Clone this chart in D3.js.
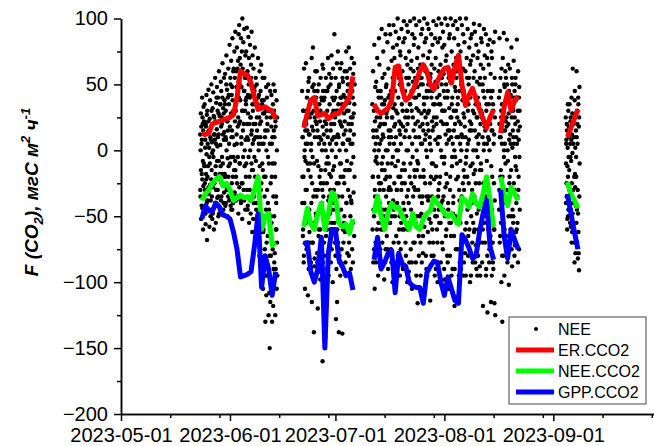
<!DOCTYPE html>
<html>
<head>
<meta charset="utf-8">
<script src="https://cdn.jsdelivr.net/npm/d3@7"></script>
<style>
  body { margin: 0; background: #fff; }
  svg { display: block; font-family: "Liberation Sans", Arial, sans-serif; }
</style>
</head>
<body>
<script>
// first day of every measuring period
var segStart = ["2023-05-24", "2023-06-22", "2023-07-12", "2023-08-17", "2023-09-05"];

// daily fluxes, one array per period
var erCCO2 = [
  [13, 12, 13, 20, 21, 22, 23, 24, 25, 27, 40, 60, 58, 57, 51, 40, 31, 32, 33, 31, 30, 24],
  [17, 28, 38, 40, 26, 27, 28, 24, 26, 28, 28, 32, 36, 40, 56],
  [35, 30, 28, 30, 32, 38, 63, 64, 46, 38, 40, 45, 52, 60, 65, 60, 50, 46, 52, 58,
   62, 63, 51, 63, 72, 50, 34, 42, 47, 39, 31, 24, 17, 25, 31],
  [13, 33, 44, 30, 38, 41],
  [10, 17, 24, 31]
];
var neeCCO2 = [
  [-38, -33, -30, -25, -22, -20, -27, -25, -30, -38, -36, -34, -36, -35, -38, -30, -20, -60, -50, -48, -72, -70],
  [-58, -44, -56, -60, -48, -40, -60, -48, -32, -35, -55, -58, -56, -63, -52],
  [-48, -35, -50, -60, -47, -40, -44, -43, -50, -55, -60, -48, -58, -60, -52, -48, -46, -36, -40, -43,
   -48, -50, -48, -53, -56, -36, -38, -43, -33, -40, -43, -33, -20, -38, -58],
  [-20, -33, -42, -28, -33, -38],
  [-24, -33, -38, -44]
];
var gppCCO2 = [
  [-52, -42, -46, -46, -40, -43, -49, -50, -52, -62, -75, -96, -95, -94, -92, -72, -48, -104, -80, -90, -110, -92],
  [-72, -70, -92, -100, -90, -66, -150, -78, -60, -60, -83, -88, -95, -93, -106],
  [-83, -66, -90, -85, -78, -76, -108, -78, -86, -88, -100, -103, -104, -104, -116, -93, -88, -84, -85, -100,
   -110, -96, -105, -114, -116, -64, -68, -74, -82, -80, -62, -48, -38, -73, -83],
  [-30, -65, -82, -60, -68, -75],
  [-33, -48, -62, -75]
];

// half-hourly NEE (thinned), one inner array per day: full spread
var neeSeg1 = [
  [12, -35, 28, -52, 5, -18, 40, -44, 20, -8, -60, 15, -27, 33],
  [-48, 22, -12, 35, -30, 8, -56, 18, -22, 42, -3, -40, 27, -68],
  [30, -20, -45, 14, 46, -33, 2, -58, 24, -10, 38, -26, 10, -50],
  [-38, 18, 50, -15, 6, -52, 32, -28, 44, -5, -44, 26, -60, 12],
  [25, -42, 8, 55, -18, -55, 36, -30, 16, 48, -8, -36, 3, 30],
  [-30, 40, -50, 12, 60, -22, 26, -45, 4, 35, -12, 52, -38, 18],
  [45, -25, 20, -48, 66, -10, 32, -40, 8, 55, -32, 14, 38, -20],
  [-18, 58, -42, 30, 8, 72, -28, 46, -50, 22, -6, 40, 15, -35],
  [62, -12, 35, -38, 80, 18, -30, 50, -5, 28, 68, -45, 10, 42],
  [-25, 48, 85, 10, -40, 30, 62, -15, 75, 4, -32, 55, 22, -8],
  [90, 35, -20, 60, 12, 78, -35, 45, -5, 68, 25, -48, 52, 88],
  [40, 95, -10, 70, 22, 58, -38, 85, 5, 48, -25, 75, 30, -52],
  [100, 62, 15, 82, -30, 45, 92, -12, 55, 30, -45, 72, 8, 38],
  [-20, 75, 40, 93, 10, 60, -42, 28, 86, -5, 50, 70, -55, 20],
  [55, -30, 80, 25, -48, 65, 12, 90, -15, 42, -62, 35, 72, 5],
  [30, -52, 62, 8, -35, 45, 78, -20, 20, -70, 55, -8, 38, -45],
  [-40, 50, 15, -65, 35, 70, -25, 0, 42, -55, 25, -80, 60, -12],
  [20, -75, 45, -30, 65, 5, -90, 35, -50, 55, -15, -105, 28, -62],
  [-60, 38, -20, 55, -85, 10, -130, 30, -45, 48, -110, 0, -70, 25],
  [40, -95, 15, -40, 50, -125, -10, 30, -80, -150, 5, -60, 45, -115],
  [-50, 25, -100, 42, -20, -130, 10, -75, 35, -118, -35, 50, -90, 15],
  [30, -85, -10, 45, -125, 18, -60, -40, 38, -105, 0, -70, 25, -95]
];
var neeSeg2 = [
  [45, -20, 10, -60, 30, -85, 62, -40, 0, 22, -105, -70, 15, -8],
  [-30, 66, 20, -75, 40, -50, 5, -110, 28, -15, 52, -90, -45, 12],
  [55, -62, 25, -10, -88, 38, 0, -40, 70, -115, 18, -25, 48, -70],
  [-5, 78, -55, 30, -138, 45, -82, 10, -30, 60, -95, 22, -48, 35],
  [40, -35, 60, -78, 15, -120, 28, -12, 50, -60, 5, -92, 35, -20],
  [-45, 22, -98, 55, -15, 8, -70, 38, -30, 65, -160, 18, -85, 45],
  [62, -25, 12, -80, 40, -50, 28, -142, 0, 55, -65, 20, -10, -90],
  [15, -60, 45, -5, 70, -38, -95, 25, 58, -18, 35, -75, 5, -48],
  [-30, 50, -85, 20, 72, -55, 8, 40, -100, -15, 62, -40, 30, 10],
  [38, -12, 88, -70, 25, -45, 55, -128, 5, -90, 45, -25, 66, -115],
  [-60, 30, 75, -35, 10, -138, 50, -80, 22, -10, 62, -95, 40, -20],
  [20, -45, 66, -88, 35, -139, 5, 52, -20, -70, 42, 12, -55, 28],
  [-25, 60, -62, 40, 15, -95, 75, -40, 30, -8, 55, -78, 8, 45],
  [50, -30, 20, 78, -70, 36, -15, 62, -50, 5, 44, -90, 25, -38],
  [-10, 70, -55, 45, 25, -85, 58, -32, 12, 66, -65, 35, -20, 50]
];
var neeSeg3 = [
  [35, -20, 60, -85, 10, -50, 80, -105, 22, -35, 48, -8, -70, 5],
  [-40, 52, 15, -78, 70, -10, 30, -95, -55, 40, 0, 85, -25, 18],
  [65, -30, 25, -88, 45, -60, 8, 92, -15, 35, -70, 55, -45, 12],
  [-5, 75, -50, 20, -98, 58, 38, -22, 88, -75, 0, 48, -35, 28],
  [50, -65, 30, 82, -10, -90, 62, 15, -40, 95, -28, 42, 5, -55],
  [-20, 88, 40, -75, 10, 68, -50, 25, -100, 55, -5, 78, -38, 32],
  [95, -45, 18, 70, -85, 45, -12, 90, 30, -65, 58, 0, -30, 80],
  [-30, 62, 100, -8, 40, -70, 85, 22, -50, 50, -95, 75, 12, -20],
  [72, 5, -55, 92, 35, -25, 60, -88, 18, 82, -40, 45, -10, 98],
  [-60, 40, 85, -15, 25, 70, -80, 55, 0, 95, -35, 30, -100, 65],
  [20, 90, -30, 50, -92, 75, 10, -55, 98, 35, -10, 62, -75, 42],
  [-45, 68, 30, -105, 88, -5, 52, -70, 15, 80, -28, 100, 40, -15],
  [85, -20, 55, 10, -85, 95, 32, -50, 70, -8, 48, -116, 22, 62],
  [-10, 78, -65, 42, 98, -35, 18, 65, -95, 50, 5, 88, -48, 28],
  [55, -40, 92, 20, -78, 72, -15, 40, 100, -58, 30, -108, 82, 8],
  [-25, 60, 12, 85, -90, 45, -5, 96, 28, -62, 70, -38, 50, 15],
  [92, 30, -52, 75, 5, -114, 58, -20, 88, 40, -80, 65, -10, 22],
  [-35, 80, 45, -70, 98, 18, -22, 62, -95, 35, 85, -50, 8, 52],
  [70, -12, 95, 25, -60, 48, -100, 82, 10, -30, 60, 100, -45, 35],
  [-55, 42, 85, -20, 65, -85, 22, 96, -5, 55, -70, 30, 78, -38],
  [30, 90, -45, 58, -10, 80, -98, 40, 100, -28, 12, 68, -65, 50],
  [-18, 72, 20, -80, 95, 45, -40, 62, 8, -105, 85, 32, -55, 15],
  [88, -30, 52, 100, -65, 25, 75, -12, 40, -90, 60, 5, -48, 95],
  [-40, 65, 15, 85, -118, 48, -5, 98, -75, 30, 70, -22, 55, 10],
  [60, -55, 92, 35, -20, 80, -110, 22, 68, -38, 45, -85, 100, 5],
  [-8, 75, -45, 50, 12, 95, -70, 38, -25, 62, 88, -95, 28, -15],
  [45, -30, 82, 18, -78, 60, -10, 100, 35, -55, 70, 0, -40, 55],
  [-20, 92, 30, -65, 50, 8, 78, -42, 22, -100, 65, 40, -12, 85],
  [68, -50, 15, 88, -30, 45, -85, 72, 0, 55, -18, 96, -62, 28],
  [-35, 60, 90, -15, 35, -72, 80, 10, -48, 52, -95, 25, 70, -5],
  [40, -60, 75, 12, -25, 95, -88, 55, 20, -40, 65, -10, 85, 30],
  [-15, 82, 28, -70, 50, -118, 62, -35, 92, 5, -55, 40, 18, 72],
  [55, -45, 20, 88, -90, 35, -8, 70, -123, 45, -28, 80, 10, -60],
  [-30, 65, 8, -75, 84, 25, -50, 58, -115, 40, -12, 75, 15, -95],
  [70, -20, 45, -85, 30, 82, -60, 12, -116, 55, -38, 25, 90, -125]
];
var neeSeg4 = [
  [40, -30, 85, 10, -65, 55, -15, 25, -100, 62, -45, 5, 35, -80, -130],
  [-20, 70, 30, -55, 89, 0, -95, 48, 15, -35, 60, -10, 22, -70],
  [55, -40, 18, 84, -75, 38, -8, 65, -50, 28, -102, 45, 8, -25],
  [-35, 62, 12, -60, 42, -15, 78, 25, -88, 50, 2, -45, 32, 15],
  [30, -50, 68, 5, -30, 45, -72, 20, 55, -12, 38, -62, 10, -40],
  [-15, 84, 40, -55, 22, 60, -30, 8, -75, 48, -5, 30, -45, 18]
];
var neeSeg5 = [
  [25, -10, 8, -35, 15, -52, 2, -20, 30, -45, -5, 18, -28, 10],
  [-15, 35, -40, 5, 22, -58, -8, 40, -25, 12, -62, 28, -2, -48],
  [62, -30, 20, -55, 10, -70, 38, -18, 2, -78, 28, -42, 15, -5],
  [-20, 60, -45, 30, 5, -82, 40, -62, 18, -91, 25, -35, 48, -10]
];

// extra NEE points of the dense core, one inner array per day
var neeCore1 = [
  [-30, 0, -15, 18, -42, 8, -22, 25], [-10, -35, 12, -25, 2, -48, 20, -18],
  [-38, 5, -12, 22, -28, 15, -5, -45], [8, -22, 30, -35, -2, 20, -48, 0],
  [-25, 12, -40, 22, -12, 5, -30, 40], [10, -35, 28, -8, -48, 22, -18, 35],
  [-35, 25, -5, 40, -18, 12, -45, 28], [35, -20, 10, -40, 50, 0, -30, 22],
  [-20, 42, 5, -35, 25, -10, 55, -42], [15, -45, 38, -20, 60, -5, 28, -35],
  [-15, 30, -38, 48, 5, -25, 62, 18], [20, -28, 50, -10, 38, 65, -40, 10],
  [-25, 30, -5, 58, 20, -38, 45, 0], [35, -10, 55, -30, 20, -45, 42, 8],
  [-20, 40, 0, -38, 25, 55, -10, 15], [-15, 20, -40, 35, -5, 48, -30, 10],
  [-30, 25, -50, 10, -20, 40, -65, 5], [-40, 10, -62, 22, -25, -85, 38, -10],
  [5, -55, 28, -35, -75, 15, -20, -95], [-30, 20, -65, -5, -90, 30, -45, -108],
  [-25, -80, 18, -55, 5, -100, -10, 28], [-50, 10, -78, -20, 22, -90, -35, -60]
];
var neeCore2 = [
  [-40, 10, -65, 30, -20, -80, 20, -5], [5, -55, 30, -30, -72, 15, -10, 45],
  [-45, 12, -70, 35, -20, -85, 5, 28], [-70, 15, -35, 50, -10, -88, 25, -55],
  [-50, 20, -8, -85, 45, -30, 10, -65], [10, -60, 30, -25, -88, 40, -40, 0],
  [-35, 38, -70, 5, -55, 22, -15, 45], [-25, 30, -80, 10, -55, 48, -10, -35],
  [-60, 15, -20, 55, -75, 0, -45, 28], [-30, 20, -55, 10, 40, -80, -5, 30],
  [-45, 12, -70, 35, -25, 48, -85, 0], [-10, 40, -75, 18, -35, 55, -60, 5],
  [-50, 22, -15, -85, 35, 0, -40, 60], [-15, -60, 30, -80, 8, 50, -35, 15],
  [-40, 20, -75, 5, 40, -55, -5, 28]
];
var neeCore3 = [
  [-60, -20, 15, -45, 30, -75, 0, -30], [-85, -5, 25, -60, 10, -35, 45, -20],
  [-40, 5, -75, 20, -25, 40, -55, -10], [-60, 10, -30, 35, -85, -15, 20, -45],
  [-20, 25, -75, 0, -45, 40, -30, 10], [-55, 15, -30, 45, -85, -10, 25, -40],
  [-70, 5, -25, 35, -50, 20, -90, 10], [-40, 28, -80, 0, -20, 55, -60, 15],
  [-75, 20, -30, 50, -15, -60, 30, -90], [-45, 10, -25, 45, -70, 15, -50, 30],
  [-60, 0, 25, -40, 55, -85, -20, 35], [-25, 45, -85, 5, -55, 25, -35, 60],
  [-70, -30, 20, -55, 40, -95, 0, -15], [-30, 30, -80, 10, -50, 55, -20, -70],
  [-85, 5, -35, 50, -65, 15, -20, 35], [-50, 25, -80, 0, -35, 40, -95, 20],
  [-35, 45, -70, 10, -25, 55, -55, 0], [-60, 15, -10, 35, -80, 25, -45, 50],
  [-90, -20, 20, -50, 40, -70, 5, -35], [-25, 10, -95, 35, -55, 0, -40, 50],
  [-75, 20, -35, 45, -90, -5, 30, -50], [-60, 5, -25, 40, -85, 15, -45, 55],
  [-80, -20, 25, -55, 10, -95, 35, -5], [-35, 30, -65, 0, -90, 20, -50, 45],
  [-10, 25, -75, 40, -55, 10, -95, -30], [-55, 20, -90, 0, -35, 50, -70, 10],
  [-85, 25, -20, 40, -60, 10, -95, -5], [-45, 5, -80, 35, -25, 55, -60, 15],
  [-95, 20, -40, 45, -70, -10, 30, -55], [-60, 15, -85, 40, -25, 0, -90, 25],
  [-80, 5, -45, 35, -70, 50, -15, -95], [-40, 25, -85, 10, -60, 45, -25, 0],
  [-70, 15, -35, -95, 30, -50, 5, -80], [-55, 35, -85, 0, -40, 20, -65, 45],
  [-45, 15, -70, 35, -90, 5, -25, -60]
];
var neeCore4 = [
  [-45, 20, -70, 45, -20, 10, -55, 30], [-40, 15, -80, 35, -5, 50, -60, 5],
  [-65, 25, -30, 50, -85, 0, -40, 20], [-20, 40, -70, 5, -50, 30, -75, 55],
  [-55, 10, -25, 40, -80, 25, -5, 50], [-60, 5, -35, 30, -85, 15, -20, 40]
];
var neeCore5 = [
  [-40, 5, -25, 20, -60, -12, 35, -50], [-30, 15, -55, -5, 25, -45, 8, -70],
  [-40, 5, -60, 25, -20, -85, 45, -28], [-55, 10, -70, 20, -30, -48, 35, -78]
];
var neeDots = [neeSeg1, neeSeg2, neeSeg3, neeSeg4, neeSeg5];
var neeCoreDots = [neeCore1, neeCore2, neeCore3, neeCore4, neeCore5];

var xTickLabels = ["2023-05-01", "2023-06-01", "2023-07-01", "2023-08-01", "2023-09-01"];
var yTicks = [-200, -150, -100, -50, 0, 50, 100];
var legendNames = ["NEE", "ER.CCO2", "NEE.CCO2", "GPP.CCO2"];
var lineColors = ["#ff0000", "#00ff00", "#0000ff"];

var W = 654, H = 446;
var parse = d3.utcParse("%Y-%m-%d");
var DAY = 864e5;

var svg = d3.select("body").append("svg")
    .attr("width", W)
    .attr("height", H);

var x = d3.scaleUtc()
    .domain([parse("2023-05-01"), parse("2023-10-01")])
    .range([121, 658.8]);
var y = d3.scaleLinear()
    .domain([-200, 100])
    .range([414, 18.5]);

// minor ticks on the 15th and 29th
var minorDates = [];
xTickLabels.forEach(function(s) {
  var d = parse(s);
  minorDates.push(d3.utcDay.offset(d, 14), d3.utcDay.offset(d, 28));
});
var minorY = d3.range(-175, 100, 50);

// scatter: spread each day's points over that day
var dots = [];
neeDots.forEach(function(seg, s) {
  var d0 = parse(segStart[s]);
  seg.forEach(function(day, i) {
    var base = +d3.utcDay.offset(d0, i);
    var vals = [];
    var core = neeCoreDots[s][i];
    day.forEach(function(v, j) {
      vals.push(v);
      if (j < core.length) vals.push(core[j]);
    });
    vals.forEach(function(v, j) {
      var t = base + ((j + 0.5) / vals.length - 0.5) * DAY;
      dots.push({t: new Date(t), v: v});
    });
  });
});

svg.append("g").selectAll("circle")
    .data(dots)
  .enter().append("circle")
    .attr("cx", function(d) { return x(d.t); })
    .attr("cy", function(d) { return y(d.v); })
    .attr("r", 2.2)
    .attr("fill", "#000");

// daily lines
var line = d3.line()
    .x(function(d) { return x(d.t); })
    .y(function(d) { return y(d.v); });

[erCCO2, neeCCO2, gppCCO2].forEach(function(series, k) {
  series.forEach(function(vals, s) {
    var d0 = parse(segStart[s]);
    var pts = vals.map(function(v, i) { return {t: d3.utcDay.offset(d0, i), v: v}; });
    svg.append("path")
        .datum(pts)
        .attr("d", line)
        .attr("fill", "none")
        .attr("stroke", lineColors[k])
        .attr("stroke-width", 5)
        .attr("stroke-linejoin", "round");
  });
});

// axes
function styleAxis(g) {
  g.selectAll("path, line").attr("stroke", "#000").attr("stroke-width", 1.5);
  g.selectAll("text").attr("fill", "#000").attr("font-size", 20)
    .attr("font-family", "'Liberation Sans', Arial, sans-serif");
}

svg.append("g")
    .attr("transform", "translate(0,414)")
    .call(d3.axisBottom(x).tickValues(minorDates).tickSize(4).tickSizeOuter(0).tickFormat(""))
    .call(styleAxis);
svg.append("g")
    .attr("transform", "translate(0,414)")
    .call(d3.axisBottom(x).tickValues(xTickLabels.map(parse)).tickSize(7).tickSizeOuter(0)
      .tickPadding(7).tickFormat(d3.utcFormat("%Y-%m-%d")))
    .call(styleAxis);

svg.append("g")
    .attr("transform", "translate(121,0)")
    .call(d3.axisLeft(y).tickValues(minorY).tickSize(4).tickSizeOuter(0).tickFormat(""))
    .call(styleAxis);
svg.append("g")
    .attr("transform", "translate(121,0)")
    .call(d3.axisLeft(y).tickValues(yTicks).tickSize(7).tickSizeOuter(0).tickPadding(6))
    .call(styleAxis);

// y title
var title = svg.append("text")
    .attr("transform", "translate(38,192) rotate(-90)")
    .attr("text-anchor", "middle")
    .attr("font-size", 19)
    .attr("font-weight", "bold")
    .attr("font-style", "italic")
    .attr("fill", "#000");
title.append("tspan").text("F (CO");
title.append("tspan").attr("font-size", 13).attr("dy", 5).text("2");
title.append("tspan").attr("dy", -5).text("), мгС м");
title.append("tspan").attr("font-size", 13).attr("dy", -8).text("2");
title.append("tspan").attr("dy", 8).text(" ч");
title.append("tspan").attr("font-size", 13).attr("dy", -8).text("-1");

// legend
var lg = svg.append("g").attr("transform", "translate(509,317)");
lg.append("rect")
    .attr("width", 137).attr("height", 87)
    .attr("fill", "#fff").attr("stroke", "#444").attr("stroke-width", 1);
legendNames.forEach(function(name, i) {
  var ly = 12 + i * 21;
  if (i === 0) {
    lg.append("circle").attr("cx", 27).attr("cy", ly).attr("r", 2).attr("fill", "#000");
  } else {
    lg.append("line")
        .attr("x1", 7).attr("x2", 45).attr("y1", ly).attr("y2", ly)
        .attr("stroke", lineColors[i - 1]).attr("stroke-width", 5);
  }
  lg.append("text")
      .attr("x", 49).attr("y", ly).attr("dy", "0.35em")
      .attr("font-size", 16).attr("fill", "#000")
      .text(name);
});
</script>
</body>
</html>
